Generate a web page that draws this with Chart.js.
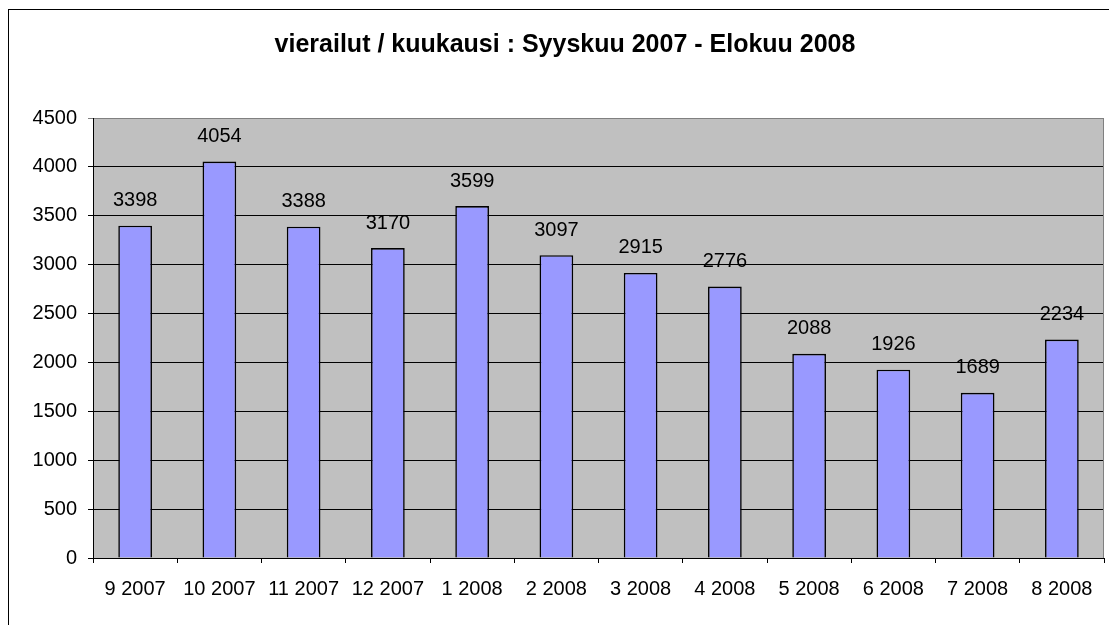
<!DOCTYPE html>
<html>
<head>
<meta charset="utf-8">
<script src="https://cdn.jsdelivr.net/npm/chart.js@4.4.1/dist/chart.umd.min.js"></script>
<style>
  body { margin: 0; background: #fff; }
  canvas { display: block; }
</style>
</head>
<body>
<canvas id="visitChart" width="1109" height="625"></canvas>
<script>
// data
const months = ['9 2007', '10 2007', '11 2007', '12 2007', '1 2008', '2 2008',
  '3 2008', '4 2008', '5 2008', '6 2008', '7 2008', '8 2008'];
const visits = [3398, 4054, 3388, 3170, 3599, 3097, 2915, 2776, 2088, 1926, 1689, 2234];
const yMin = 0;
const yMax = 4500;
const yStep = 500;

const FONT = 'Arial, "Liberation Sans", sans-serif';

// gray plot area, outer frame, plot border
const plotBox = {
  id: 'plotBox',
  beforeDraw(chart) {
    const ctx = chart.ctx;
    const a = chart.chartArea;
    ctx.save();
    ctx.fillStyle = '#c0c0c0';
    ctx.fillRect(a.left, a.top, a.right - a.left, a.bottom - a.top);
    ctx.strokeStyle = '#000';
    ctx.lineWidth = 1;
    ctx.strokeRect(8.5, 9.5, 2000, 2000);
    ctx.restore();
  },
  afterDraw(chart) {
    const ctx = chart.ctx;
    const a = chart.chartArea;
    ctx.save();
    ctx.strokeStyle = '#808080';
    ctx.lineWidth = 1;
    ctx.beginPath();
    ctx.moveTo(Math.round(a.right) - 0.5, a.top);
    ctx.lineTo(Math.round(a.right) - 0.5, a.bottom);
    ctx.stroke();
    ctx.restore();
  }
};

// value above each bar
const barValues = {
  id: 'barValues',
  afterDatasetsDraw(chart) {
    const ctx = chart.ctx;
    const meta = chart.getDatasetMeta(0);
    ctx.save();
    ctx.font = '20px ' + FONT;
    ctx.fillStyle = '#000';
    ctx.textAlign = 'center';
    ctx.textBaseline = 'middle';
    meta.data.forEach((bar, i) => {
      ctx.fillText(visits[i], bar.x, bar.y - 25);
    });
    ctx.restore();
  }
};

new Chart(document.getElementById('visitChart'), {
  type: 'bar',
  data: {
    labels: months,
    datasets: [{
      data: visits,
      backgroundColor: '#9999ff',
      borderColor: '#000',
      borderWidth: 1.6,
      categoryPercentage: 1,
      barPercentage: 0.4
    }]
  },
  options: {
    responsive: false,
    animation: false,
    layout: { padding: { left: 26, right: 5, top: 0, bottom: 0 } },
    scales: {
      x: {
        grid: {
          offset: true,
          drawOnChartArea: false,
          color: '#000',
          tickLength: 5
        },
        border: { color: '#000' },
        ticks: {
          color: '#000',
          font: { family: FONT, size: 20 },
          padding: 14,
          maxRotation: 0,
          autoSkip: false
        },
        afterFit(scale) { scale.height = 67; }
      },
      y: {
        min: yMin,
        max: yMax,
        grid: {
          color: ctx => (ctx.tick && ctx.tick.value === yMax) ? '#808080' : '#000',
          tickLength: 5
        },
        border: { color: '#000' },
        ticks: {
          stepSize: yStep,
          color: '#000',
          font: { family: FONT, size: 20 },
          padding: 11,
          callback: v => String(v)
        },
        afterFit(scale) { scale.width = 67; }
      }
    },
    plugins: {
      legend: { display: false },
      tooltip: { enabled: false },
      title: {
        display: true,
        text: 'vierailut / kuukausi : Syyskuu 2007 - Elokuu 2008',
        color: '#000',
        font: { family: FONT, size: 25, weight: 'bold' },
        padding: { top: 30, bottom: 58 }
      }
    }
  },
  plugins: [plotBox, barValues]
});
</script>
</body>
</html>
